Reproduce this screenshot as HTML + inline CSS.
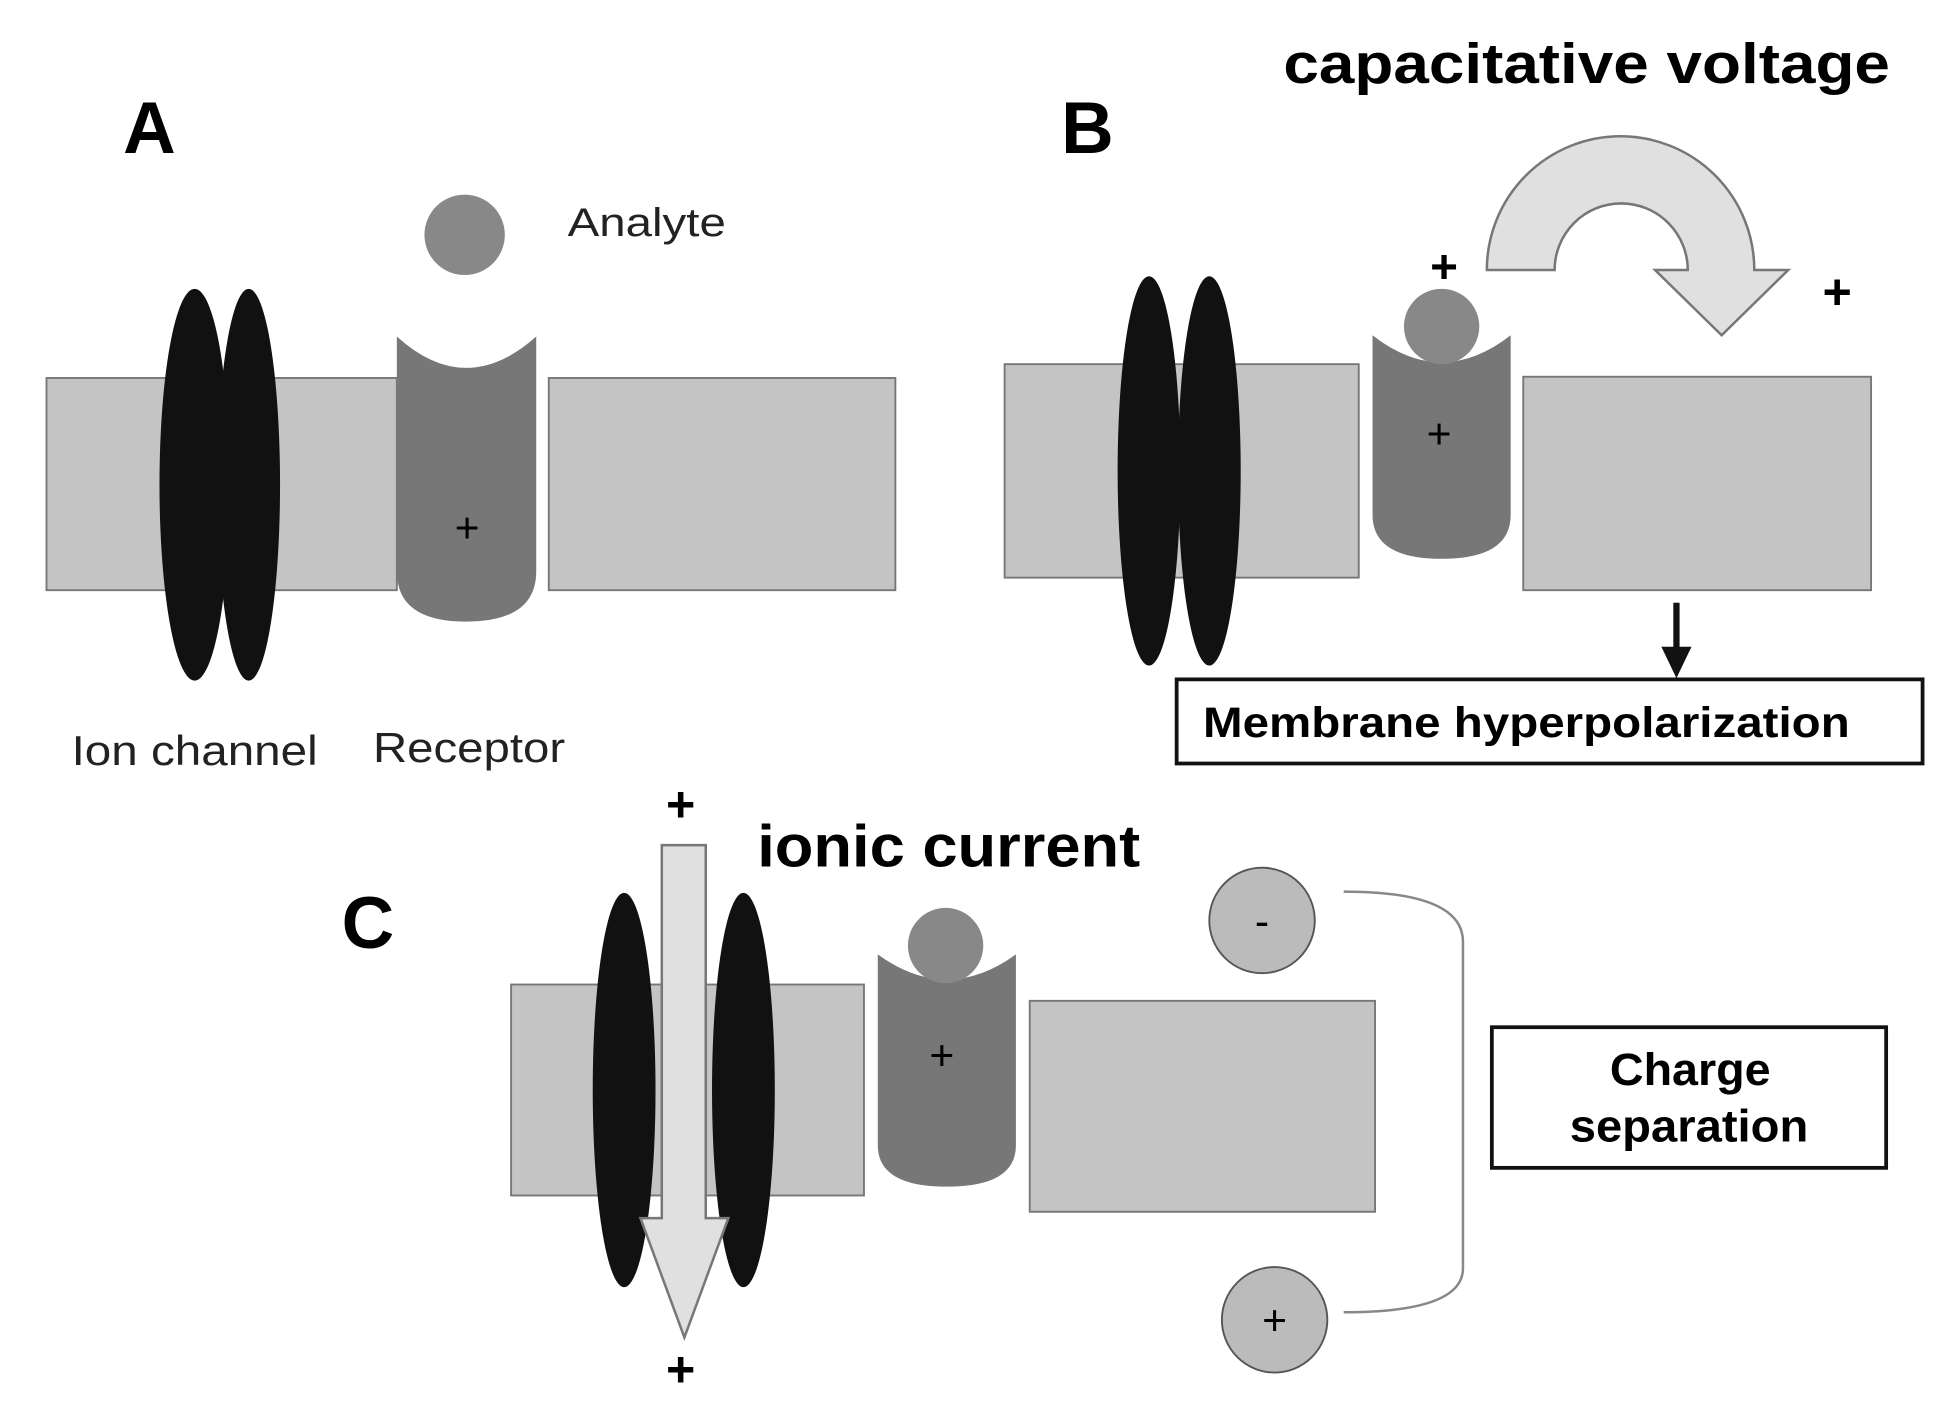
<!DOCTYPE html>
<html><head><meta charset="utf-8"><style>
html,body{margin:0;padding:0;background:#fff;}
svg{display:block;}
text{font-family:"Liberation Sans",Arial,sans-serif;}
</style></head><body>
<svg width="1959" height="1419" viewBox="0 0 1560 1130" xmlns="http://www.w3.org/2000/svg">
<rect width="1560" height="1130" fill="#fff"/>
<g stroke="#777" stroke-width="1.5">
<rect x="37" y="301" width="279" height="169" fill="#c4c4c4"/>
<rect x="437" y="301" width="276" height="169" fill="#c4c4c4"/>
<rect x="800" y="290" width="282" height="170" fill="#c4c4c4"/>
<rect x="1213" y="300" width="277" height="170" fill="#c4c4c4"/>
<rect x="407" y="784" width="281" height="168" fill="#c4c4c4"/>
<rect x="820" y="797" width="275" height="168" fill="#c4c4c4"/>
</g>
<!-- A -->
<ellipse cx="155" cy="386" rx="28" ry="156" fill="#111"/>
<ellipse cx="198" cy="386" rx="25" ry="156" fill="#111"/>
<path d="M316 268 Q371 318 427 268 L427 455 Q427 495 371 495 Q316 495 316 455 Z" fill="#777"/>
<circle cx="370" cy="187" r="32" fill="#888"/>
<text x="372" y="432" font-size="34" text-anchor="middle">+</text>
<text x="452" y="188" font-size="32" fill="#222" textLength="126" lengthAdjust="spacingAndGlyphs">Analyte</text>
<text x="98" y="122" font-size="58" font-weight="bold">A</text>
<text x="57" y="609" font-size="33" fill="#222" textLength="196" lengthAdjust="spacingAndGlyphs">Ion channel</text>
<text x="297" y="607" font-size="33" fill="#222" textLength="153" lengthAdjust="spacingAndGlyphs">Receptor</text>
<!-- B -->
<ellipse cx="915" cy="375" rx="25" ry="155" fill="#111"/>
<ellipse cx="963" cy="375" rx="25" ry="155" fill="#111"/>
<path d="M1093 267 Q1148 310 1203 267 L1203 410 Q1203 445 1148 445 Q1093 445 1093 410 Z" fill="#777"/>
<circle cx="1148" cy="260" r="30" fill="#888"/>
<text x="1146" y="357" font-size="34" text-anchor="middle">+</text>
<text x="1150" y="225" font-size="38" font-weight="bold" text-anchor="middle">+</text>
<text x="1463" y="246" font-size="40" font-weight="bold" text-anchor="middle">+</text>
<path d="M1184 215 A106.5 106.5 0 0 1 1397 215 L1424 215 L1371 267 L1318 215 L1344 215 A53 53 0 0 0 1238 215 Z" fill="#e0e0e0" stroke="#777" stroke-width="2"/>
<text x="845" y="122" font-size="58" font-weight="bold">B</text>
<text x="1022" y="66" font-size="45" font-weight="bold" textLength="483" lengthAdjust="spacingAndGlyphs">capacitative voltage</text>
<line x1="1335" y1="480" x2="1335" y2="520" stroke="#111" stroke-width="5"/>
<path d="M1323 515 L1347 515 L1335 540 Z" fill="#111"/>
<rect x="937" y="541" width="594" height="67" fill="#fff" stroke="#111" stroke-width="3"/>
<text x="958" y="587" font-size="34" font-weight="bold" textLength="515" lengthAdjust="spacingAndGlyphs">Membrane hyperpolarization</text>
<!-- C -->
<ellipse cx="497" cy="868" rx="25" ry="157" fill="#111"/>
<ellipse cx="592" cy="868" rx="25" ry="157" fill="#111"/>
<path d="M527 673 L562 673 L562 970 L580 970 L545 1065 L510 970 L527 970 Z" fill="#e0e0e0" stroke="#777" stroke-width="2"/>
<text x="542" y="654" font-size="40" font-weight="bold" text-anchor="middle">+</text>
<text x="542" y="1104" font-size="40" font-weight="bold" text-anchor="middle">+</text>
<text x="603" y="690" font-size="47" font-weight="bold" textLength="305" lengthAdjust="spacingAndGlyphs">ionic current</text>
<path d="M699 760 Q754 800 809 760 L809 912 Q809 945 754 945 Q699 945 699 912 Z" fill="#777"/>
<circle cx="753" cy="753" r="30" fill="#888"/>
<text x="750" y="852" font-size="34" text-anchor="middle">+</text>
<text x="272" y="755" font-size="58" font-weight="bold">C</text>
<circle cx="1005" cy="733" r="42" fill="#bbb" stroke="#555" stroke-width="1.5"/>
<text x="1005" y="745" font-size="34" text-anchor="middle">-</text>
<circle cx="1015" cy="1051" r="42" fill="#bbb" stroke="#555" stroke-width="1.5"/>
<text x="1015" y="1063" font-size="34" text-anchor="middle">+</text>
<path d="M1070 710 Q1165 710 1165 750 L1165 1010 Q1165 1045 1070 1045" fill="none" stroke="#888" stroke-width="2"/>
<rect x="1188" y="818" width="314" height="112" fill="#fff" stroke="#111" stroke-width="3"/>
<text x="1282" y="864" font-size="36" font-weight="bold" textLength="128" lengthAdjust="spacingAndGlyphs">Charge</text>
<text x="1250" y="909" font-size="36" font-weight="bold" textLength="190" lengthAdjust="spacingAndGlyphs">separation</text>
</svg>
</body></html>
